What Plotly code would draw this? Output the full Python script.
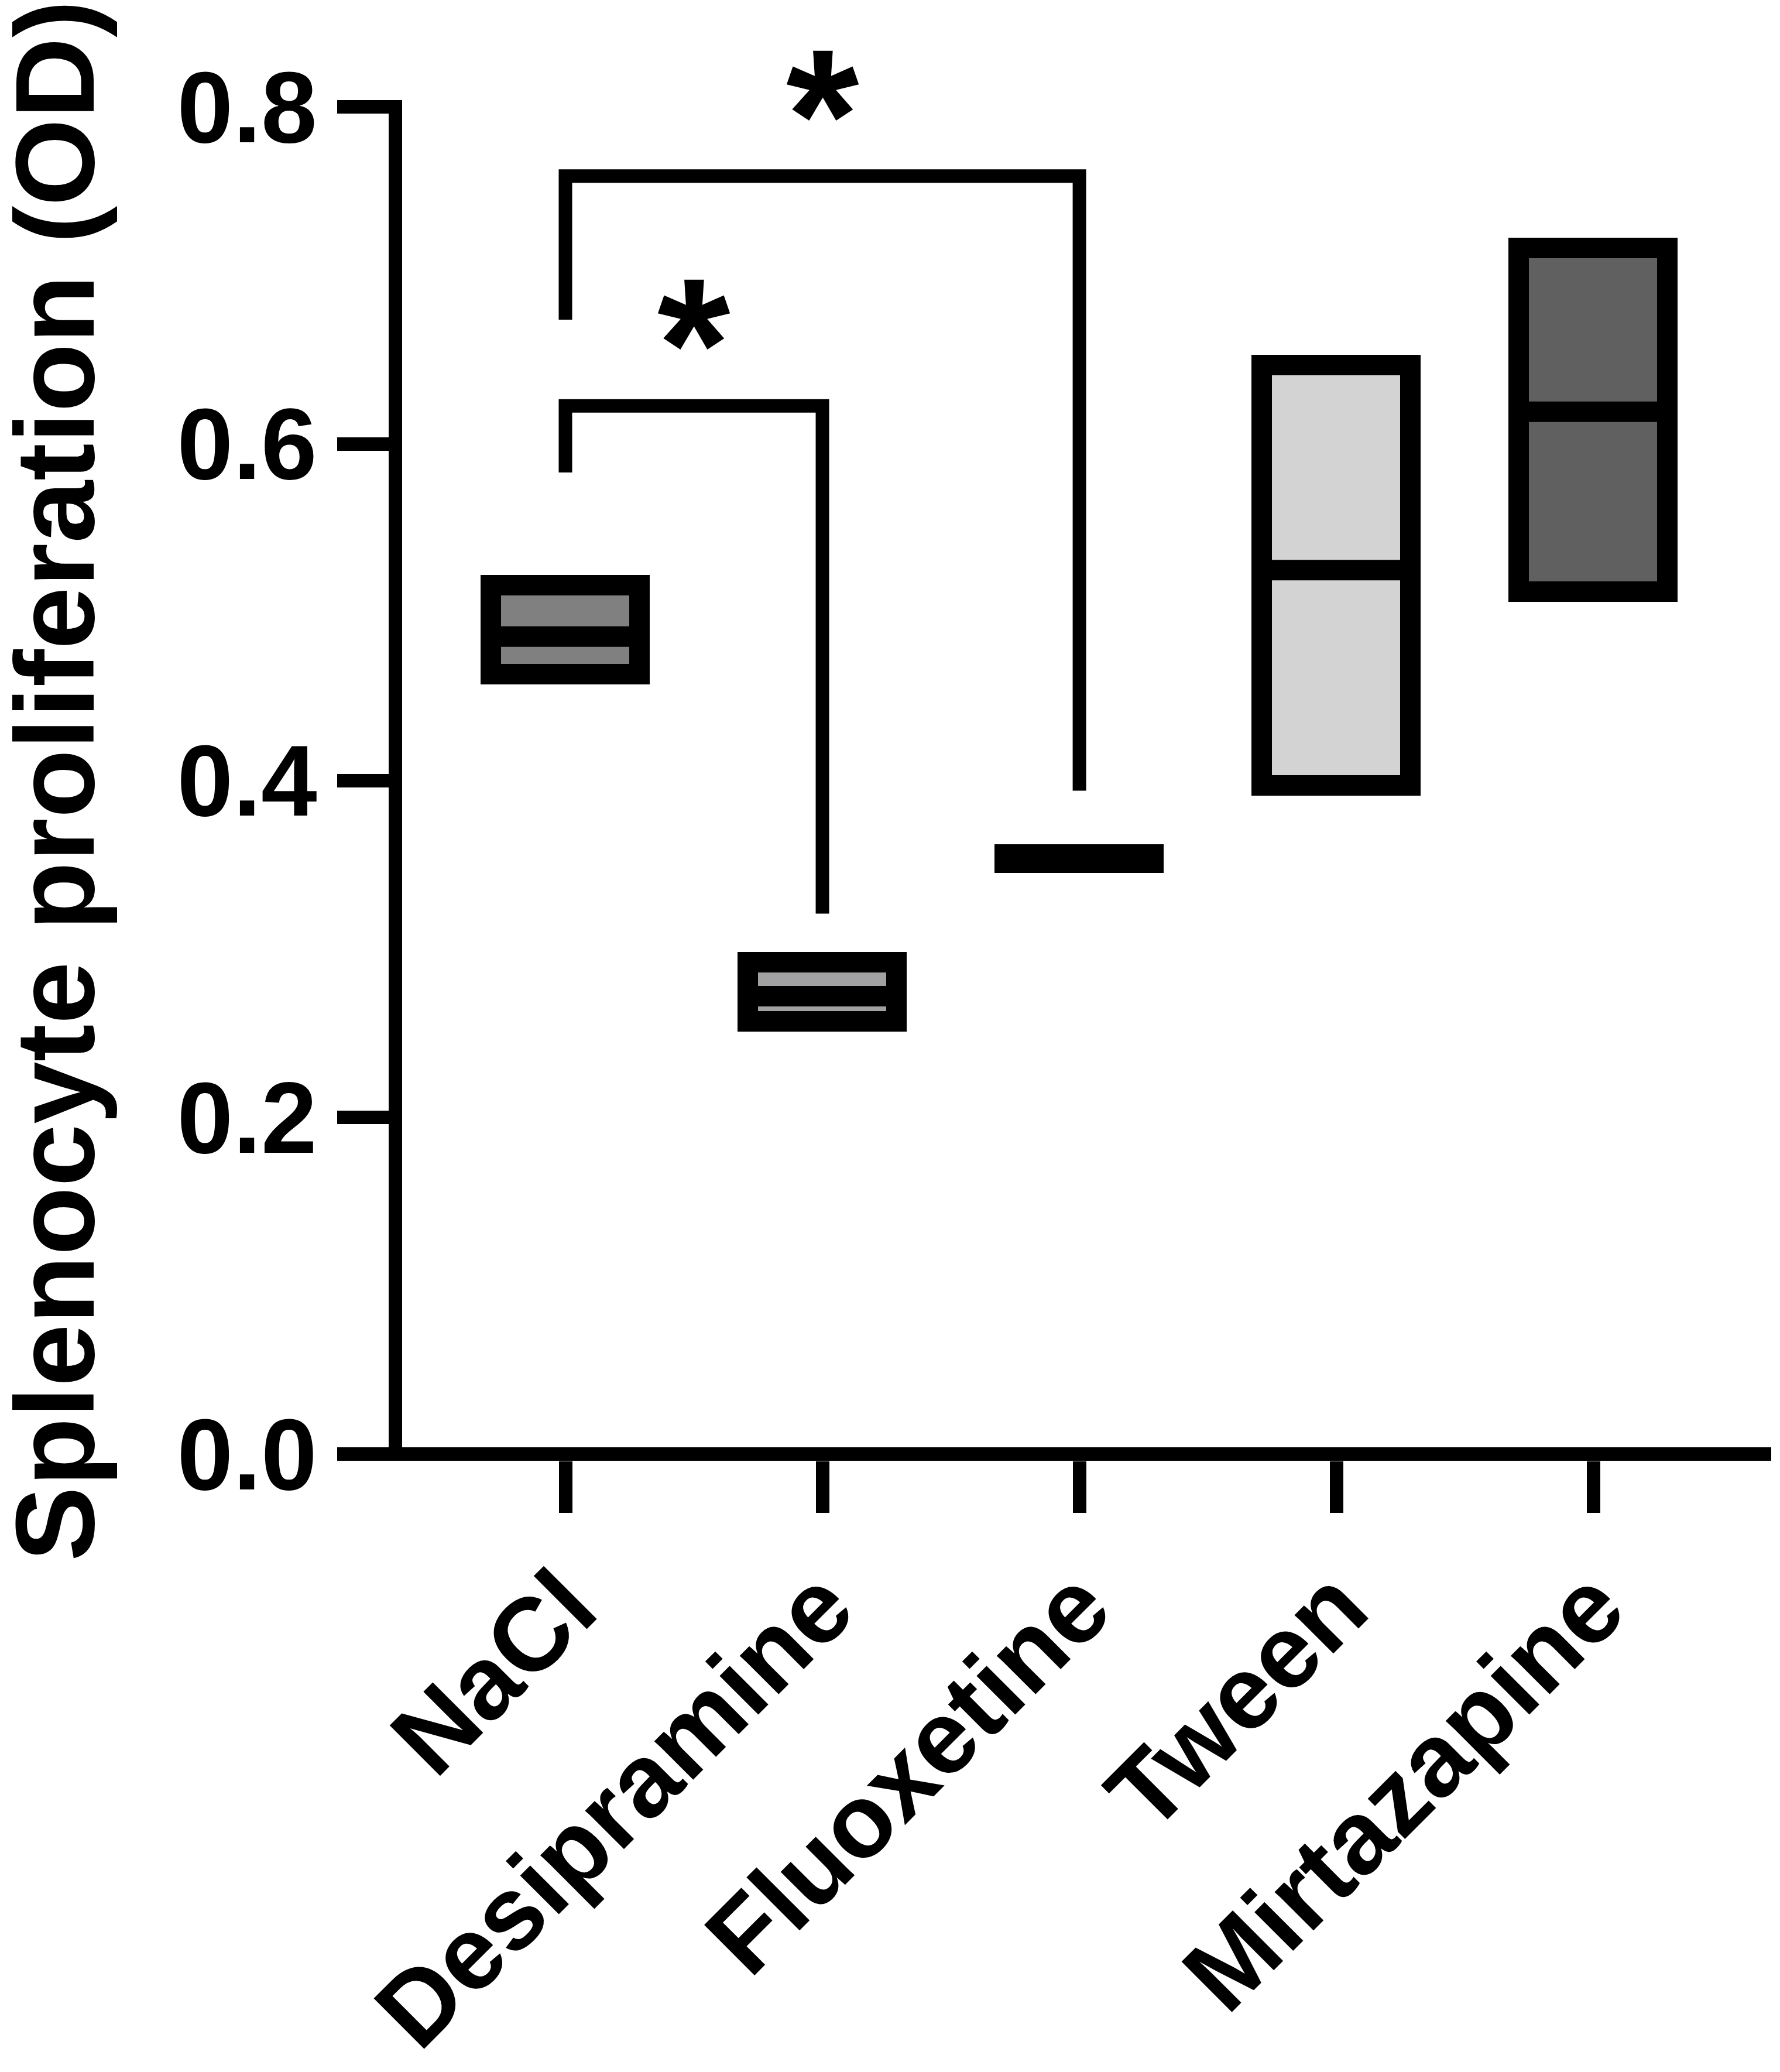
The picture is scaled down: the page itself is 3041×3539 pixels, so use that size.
import plotly.graph_objects as go

# ---- data ----
categories = ["NaCl", "Desipramine", "Fluoxetine", "Tween", "Mirtazapine"]
box_min = [0.463, 0.257, 0.351, 0.397, 0.512]
box_max = [0.516, 0.292, 0.356, 0.6465, 0.716]
box_median = [0.4855, 0.272, 0.3535, 0.525, 0.619]
box_colors = ["#808080", "#A1A1A4", "#000000", "#D3D3D3", "#606060"]

# significance brackets: (left group index, right group index)
bracket_pairs = [(0, 1), (0, 2)]
bracket_top = [0.6225, 0.759]
bracket_left_end = [0.583, 0.6737]
bracket_right_end = [0.321, 0.3940]
bracket_label = ["*", "*"]
star_y = [0.684, 0.820]

y_ticks = [0.0, 0.2, 0.4, 0.6, 0.8]
y_range = [-0.00392, 0.80409]

FONT = "Liberation Sans, Arial, sans-serif"
BOX_W = 0.578
LW = 23
STAR_SIZE = 320

xpos = list(range(len(categories)))

fig = go.Figure()

fig.add_trace(go.Bar(
    x=xpos,
    y=[hi - lo for lo, hi in zip(box_min, box_max)],
    base=box_min,
    width=BOX_W,
    marker=dict(color=box_colors, line=dict(color="black", width=35)),
    hoverinfo="skip",
))

# median lines
mx, my = [], []
for i, m in zip(xpos, box_median):
    mx += [i - BOX_W / 2, i + BOX_W / 2, None]
    my += [m, m, None]
fig.add_trace(go.Scatter(x=mx, y=my, mode="lines",
                         line=dict(color="black", width=35), hoverinfo="skip"))

# brackets
bx, by = [], []
for (a, b), top, le, re in zip(bracket_pairs, bracket_top, bracket_left_end, bracket_right_end):
    bx += [a, a, b, b, None]
    by += [le, top, top, re, None]
fig.add_trace(go.Scatter(x=bx, y=by, mode="lines",
                         line=dict(color="black", width=LW), hoverinfo="skip"))

annotations = []
for (a, b), sy, lab in zip(bracket_pairs, star_y, bracket_label):
    annotations.append(dict(
        x=(a + b) / 2, xref="x",
        y=(sy - y_range[0]) / (y_range[1] - y_range[0]), yref="paper",
        text=lab, showarrow=False,
        xanchor="center", yanchor="middle", yshift=-0.22 * STAR_SIZE,
        font=dict(family=FONT, size=STAR_SIZE, color="black", weight="bold"),
    ))

annotations.append(dict(
    x=-0.254, y=0.5, xref="paper", yref="paper",
    text="Splenocyte proliferation (OD)", showarrow=False, textangle=-90,
    xanchor="center", yanchor="middle",
    font=dict(family=FONT, size=192, color="black", weight="bold"),
))

fig.update_layout(
    width=3041, height=3539, autosize=False,
    margin=dict(l=679, r=23, t=163, b=1006, pad=0),
    paper_bgcolor="white", plot_bgcolor="white",
    showlegend=False, bargap=0,
    annotations=annotations,
    xaxis=dict(
        range=[-0.6355, 4.692], showline=False, zeroline=False, showgrid=False,
        tickmode="array", tickvals=xpos, ticktext=categories,
        ticks="outside", ticklen=88, tickwidth=LW, tickcolor="black",
        tickangle=-45, ticklabelstandoff=-14,
        tickfont=dict(family=FONT, size=177, color="black", weight="bold"),
    ),
    yaxis=dict(
        range=y_range, showline=True, linewidth=LW, linecolor="black",
        zeroline=True, zerolinewidth=LW, zerolinecolor="black", showgrid=False,
        tickmode="array", tickvals=y_ticks, tickformat=".1f",
        ticks="outside", ticklen=88, tickwidth=LW, tickcolor="black",
        tickfont=dict(family=FONT, size=172, color="black", weight="bold"),
    ),
)

fig.write_html("out.html")
